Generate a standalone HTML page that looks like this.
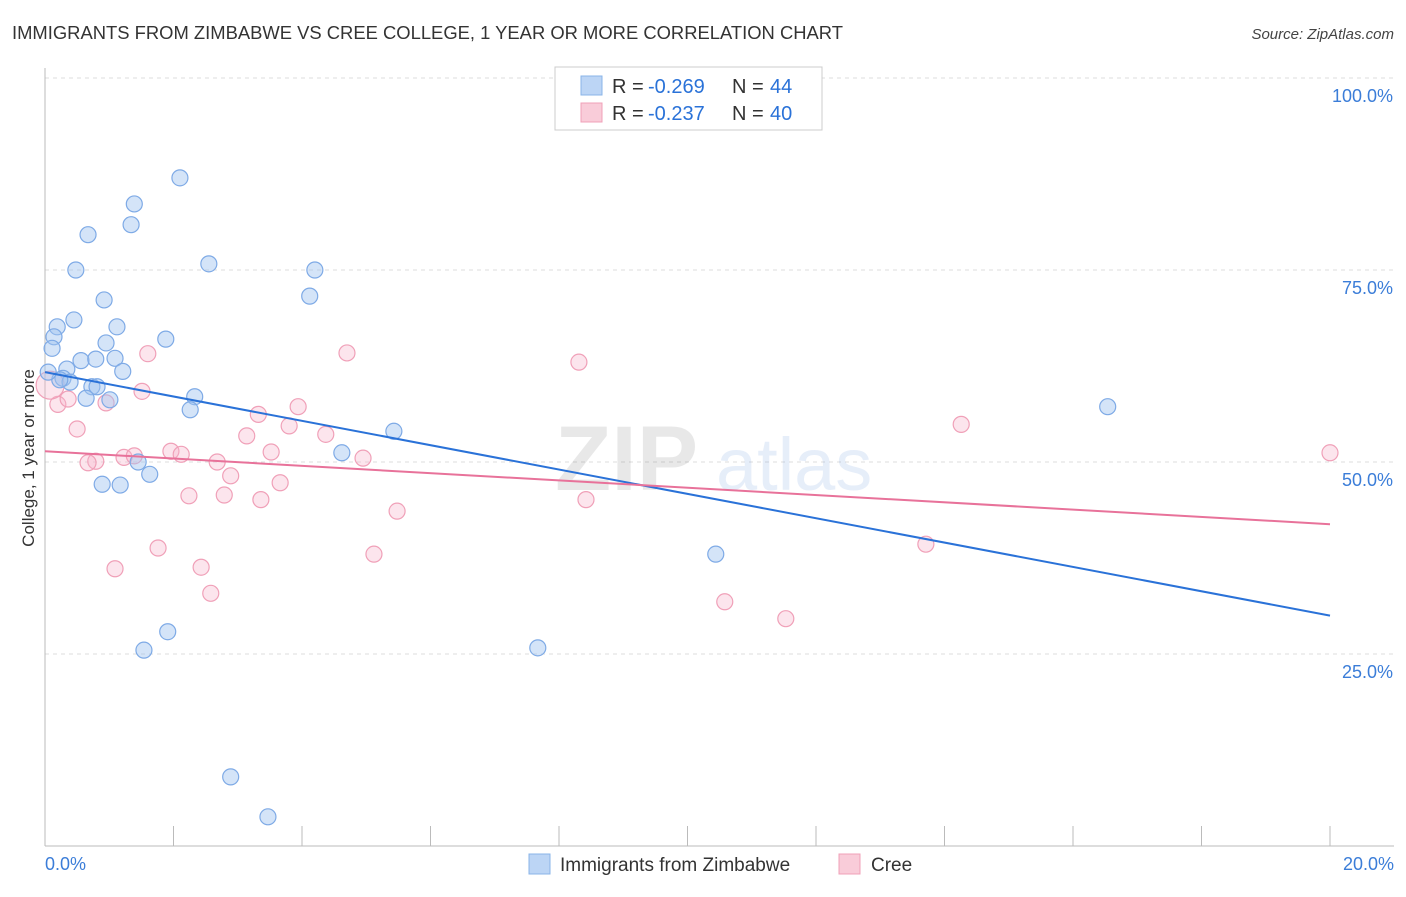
<!DOCTYPE html>
<html><head><meta charset="utf-8"><style>
body{margin:0;background:#fff;font-family:"Liberation Sans",sans-serif;}
svg text{font-family:"Liberation Sans",sans-serif;}
</style></head><body>
<svg id="chart" width="1406" height="892" viewBox="0 0 1406 892" xmlns="http://www.w3.org/2000/svg">
<text x="12" y="39" font-size="18" fill="#333" textLength="831" lengthAdjust="spacingAndGlyphs">IMMIGRANTS FROM ZIMBABWE VS CREE COLLEGE, 1 YEAR OR MORE CORRELATION CHART</text>
<text x="1394" y="39" font-size="15" fill="#444" font-style="italic" text-anchor="end">Source: ZipAtlas.com</text>
<g id="grid"></g>
<g opacity="0.13">
<text x="555" y="490" font-size="92" font-family="Liberation Serif" fill="#555" font-weight="bold">ZIP</text>
<text x="716" y="490" font-size="74" fill="#4a7fd6">atlas</text>
</g>
<text transform="translate(34,458) rotate(-90)" font-size="17" fill="#333" text-anchor="middle">College, 1 year or more</text>
<g id="points"></g>
<g id="lines"></g>
<g>
<rect x="555" y="67" width="267" height="63" fill="#fff" stroke="#ccc"/>
<rect x="581" y="76" width="21" height="19" fill="#bcd5f5" stroke="#8ab4e8"/>
<rect x="581" y="103" width="21" height="19" fill="#f9ccd9" stroke="#f0a0b8"/>
<text x="612" y="93" font-size="20" fill="#333">R =</text>
<text x="648" y="93" font-size="20" fill="#2a72d8">-0.269</text>
<text x="732" y="93" font-size="20" fill="#333">N =</text>
<text x="770" y="93" font-size="20" fill="#2a72d8">44</text>
<text x="612" y="120" font-size="20" fill="#333">R =</text>
<text x="648" y="120" font-size="20" fill="#2a72d8">-0.237</text>
<text x="732" y="120" font-size="20" fill="#333">N =</text>
<text x="770" y="120" font-size="20" fill="#2a72d8">40</text>
</g>
<g>
<rect x="529" y="854" width="21" height="20" fill="#bcd5f5" stroke="#8ab4e8"/>
<text x="560" y="871" font-size="19" fill="#333">Immigrants from Zimbabwe</text>
<rect x="839" y="854" width="21" height="20" fill="#f9ccd9" stroke="#f0a0b8"/>
<text x="871" y="871" font-size="19" fill="#333">Cree</text>
</g>
</svg>
<script>
const blueX=[2.10,1.39,1.34,0.67,2.55,0.48,4.20,4.12,0.92,0.19,1.12,0.45,0.14,1.88,0.95,0.11,0.56,0.79,1.09,0.34,1.21,0.28,0.39,0.23,0.73,0.81,0.64,2.33,1.01,2.26,5.43,4.62,1.45,1.63,0.89,1.17,10.44,1.91,1.54,7.67,2.89,3.47,16.54,0.05];
const blueY=[87.0,83.6,80.9,79.6,75.8,75.0,75.0,71.6,71.1,67.6,67.6,68.5,66.3,66.0,65.5,64.8,63.2,63.4,63.5,62.1,61.8,60.9,60.4,60.7,59.8,59.8,58.3,58.5,58.1,56.8,54.0,51.2,50.0,48.4,47.1,47.0,38.0,27.9,25.5,25.8,9.0,3.8,57.2,61.7];
const pinkX=[1.60,4.70,8.31,1.51,0.20,0.36,0.95,3.94,3.32,0.50,3.80,4.37,3.14,1.96,2.12,3.52,1.23,1.39,0.79,0.67,2.68,4.95,2.89,3.66,2.24,2.79,3.36,5.48,8.42,1.76,5.12,1.09,2.43,2.58,10.58,11.53,13.71,14.26,20.0,0.08];
const pinkY=[64.1,64.2,63.0,59.2,57.5,58.2,57.7,57.2,56.2,54.3,54.7,53.6,53.4,51.4,51.0,51.3,50.6,50.8,50.1,49.9,50.0,50.5,48.2,47.3,45.6,45.7,45.1,43.6,45.1,38.8,38.0,36.1,36.3,32.9,31.8,29.6,39.3,54.9,51.2,60.0];
const blueTrend=[61.7,30.0];
const pinkTrend=[51.4,41.9];
const yTicks=[25,50,75,100];
const yTickLabels=["25.0%","50.0%","75.0%","100.0%"];
const xTicks=[0,2,4,6,8,10,12,14,16,18,20];
const NS="http://www.w3.org/2000/svg";
const sx=v=>45+v/20*1285, sy=v=>846-v/100*768;
function mk(t,a,p){const e=document.createElementNS(NS,t);for(const k in a)e.setAttribute(k,a[k]);p.appendChild(e);return e;}
const grid=document.getElementById('grid');
yTicks.forEach((t,i)=>{
 const l=mk('line',{x1:45,x2:1394,y1:sy(t),y2:sy(t),stroke:'#ddd','stroke-dasharray':'4,4'},grid);
 
 
 const tx=mk('text',{x:1393,y:sy(t)+24,'font-size':18,fill:'#3b7dd8','text-anchor':'end'},grid);tx.textContent=yTickLabels[i];
 
 
});
mk('line',{x1:45,x2:45,y1:68,y2:846,stroke:'#bbb'},grid);
mk('line',{x1:45,x2:1394,y1:846,y2:846,stroke:'#bbb'},grid);
xTicks.forEach(t=>{const l=mk('line',{x1:sx(t),x2:sx(t),y1:826,y2:846,stroke:'#bbb'},grid);
 
 });
const x0=mk('text',{x:45,y:870,'font-size':18,fill:'#3b7dd8'},grid);x0.textContent="0.0%";


const x1=mk('text',{x:1394,y:870,'font-size':18,fill:'#3b7dd8','text-anchor':'end'},grid);x1.textContent="20.0%";


const pts=document.getElementById('points');
pinkX.forEach((x,i)=>{const c=mk('circle',{cx:sx(x),cy:sy(pinkY[i]),r:i===pinkX.length-1?14:8,fill:'rgba(246,180,202,0.35)',stroke:'#f0a0b8','stroke-width':1.2},pts);
 
 });
blueX.forEach((x,i)=>{const c=mk('circle',{cx:sx(x),cy:sy(blueY[i]),r:8,fill:'rgba(160,196,240,0.45)',stroke:'#7eaae6','stroke-width':1.2},pts);
 
 });
const lg=document.getElementById('lines');
const bl=mk('line',{x1:sx(0),y1:sy(blueTrend[0]),x2:sx(20),y2:sy(blueTrend[1]),stroke:'#2a72d8','stroke-width':2},lg);


const pl=mk('line',{x1:sx(0),y1:sy(pinkTrend[0]),x2:sx(20),y2:sy(pinkTrend[1]),stroke:'#e8729a','stroke-width':2},lg);


</script>
</body></html>
